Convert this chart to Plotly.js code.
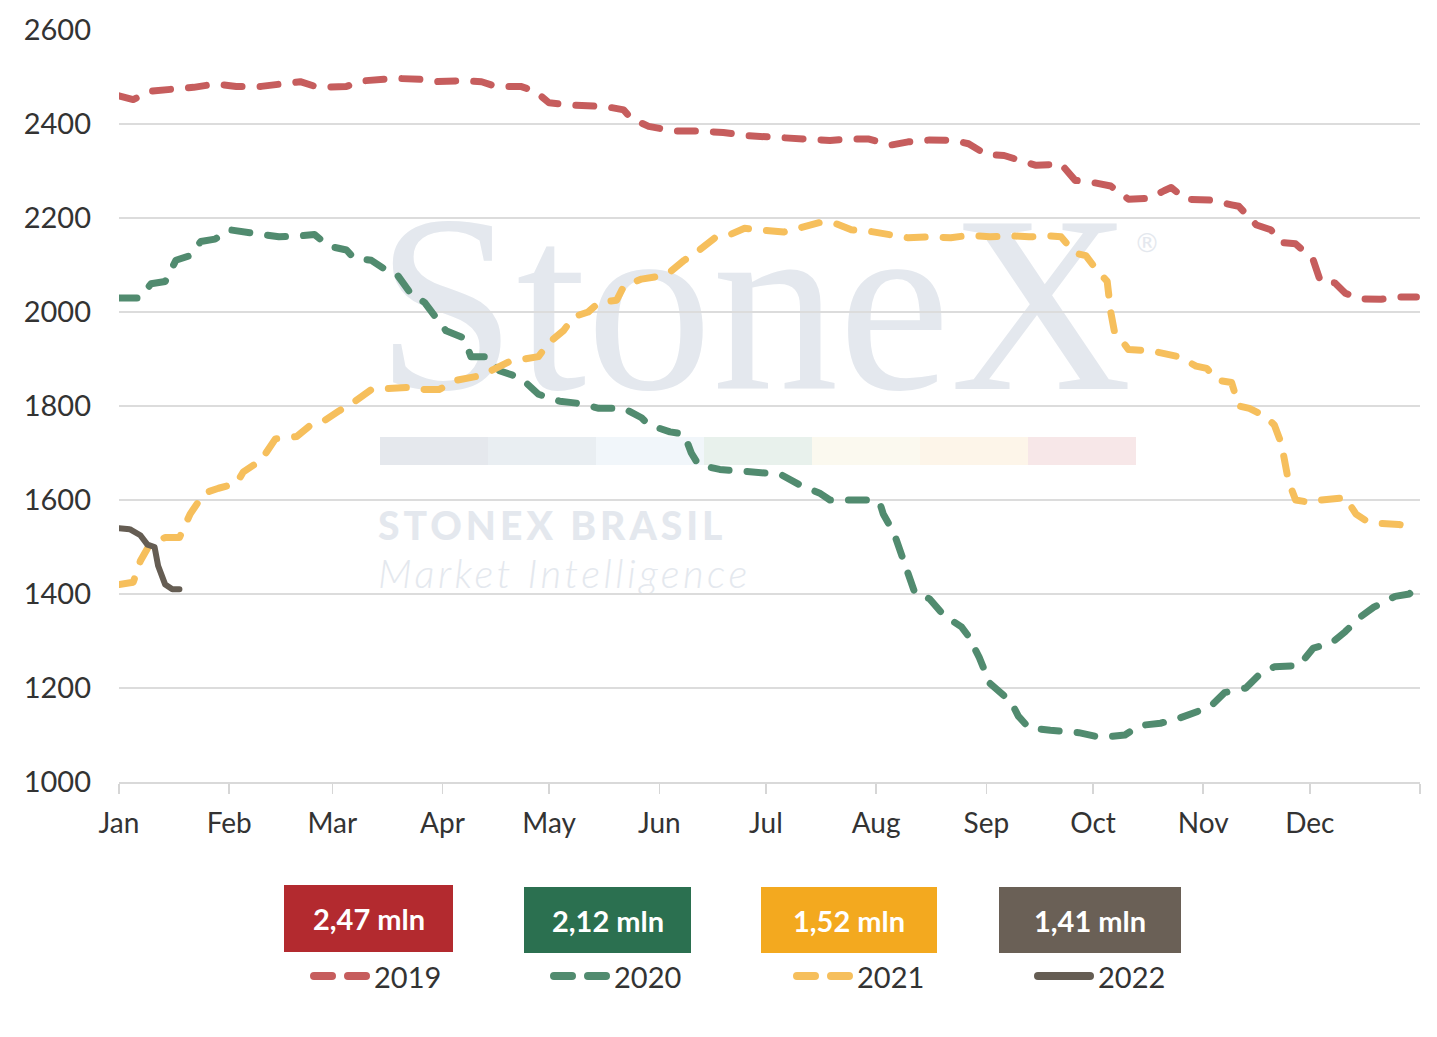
<!DOCTYPE html>
<html>
<head>
<meta charset="utf-8">
<script src="https://cdn.plot.ly/plotly-3.0.1.min.js"></script>
<style>
  html, body { margin: 0; padding: 0; background: #ffffff; }
  #wrap { position: relative; width: 1437px; height: 1037px; overflow: hidden; }
  #wm { position: absolute; left: 0; top: 0; width: 1437px; height: 1037px; z-index: 0; }
  #chart { position: absolute; left: 0; top: 0; width: 1437px; height: 1037px; z-index: 1; }
  .wm-text { position: absolute; white-space: nowrap; color: #e4e8ee; line-height: 1; }
  .wm-bar { position: absolute; top: 437px; height: 28px; width: 108px; }
  .js-line { stroke-linecap: round; stroke-linejoin: round; }
  .shapelayer path { stroke-linecap: round; }
</style>
</head>
<body>
<div id="wrap">
  <div id="wm">
    <div class="wm-text" style="left:376px; top:178px; font-family:'Liberation Serif','DejaVu Serif',serif; font-size:252px;">StoneX</div>
    <div class="wm-text" style="left:1134px; top:230px; font-family:'DejaVu Sans',sans-serif; font-size:26px;">®</div>
    <div class="wm-bar" style="left:380px; background:#e5e8ed;"></div>
    <div class="wm-bar" style="left:488px; background:#e9eef2;"></div>
    <div class="wm-bar" style="left:596px; background:#f1f6fa;"></div>
    <div class="wm-bar" style="left:704px; background:#e8f1ec;"></div>
    <div class="wm-bar" style="left:812px; background:#fbf9ef;"></div>
    <div class="wm-bar" style="left:920px; background:#fdf5e9;"></div>
    <div class="wm-bar" style="left:1028px; background:#f7e7e8;"></div>
    <div class="wm-text" style="left:378px; top:506px; font-family:Lato,sans-serif; font-weight:900; font-size:39px; letter-spacing:4px;">STONEX BRASIL</div>
    <div class="wm-text" style="left:378px; top:553px; font-family:Lato,sans-serif; font-style:italic; font-weight:300; font-size:40px; letter-spacing:3.5px;">Market Intelligence</div>
  </div>
  <div id="chart"></div>
</div>
<script>
// ---------------- DATA ----------------
// x values are day offsets from 1 January (seasonal axis)
const monthLabels = ['Jan','Feb','Mar','Apr','May','Jun','Jul','Aug','Sep','Oct','Nov','Dec',''];
const yTicks = [1000,1200,1400,1600,1800,2000,2200,2400,2600];

const days2019 = [0,4,9,14,21,27,33,40,45,51,56,64,69,78,85,89,96,102,106,113,117,121,128,137,142,144,149,156,163,170,177,183,189,194,200,206,211,217,222,228,235,239,244,249,253,258,265,269,273,279,284,290,294,296,300,307,313,315,320,324,327,331,334,336,338,342,345,349,355,360,365];
const vals2019 = [2460,2452,2470,2473,2478,2485,2480,2480,2485,2490,2478,2480,2492,2497,2495,2490,2492,2490,2480,2480,2470,2445,2440,2437,2430,2412,2395,2385,2385,2382,2375,2372,2370,2368,2365,2368,2368,2355,2362,2366,2365,2358,2335,2333,2325,2312,2315,2280,2277,2268,2240,2242,2258,2265,2240,2238,2228,2225,2185,2175,2148,2145,2125,2110,2065,2062,2040,2028,2027,2032,2032];

const days2020 = [0,6,9,13,16,20,23,27,31,35,40,45,51,55,59,64,66,71,75,78,82,86,89,92,97,99,104,107,113,118,124,130,135,142,147,149,155,159,161,163,169,180,186,192,197,200,211,214,215,218,221,224,228,232,237,239,242,245,248,251,253,256,262,270,276,283,287,293,298,303,307,311,317,321,325,332,336,341,345,349,353,359,363,366];
const vals2020 = [2030,2030,2060,2065,2110,2120,2150,2155,2175,2170,2165,2160,2162,2165,2140,2132,2115,2110,2090,2082,2040,2020,1990,1960,1945,1905,1905,1875,1860,1825,1810,1805,1795,1795,1775,1760,1745,1740,1700,1675,1665,1660,1655,1630,1615,1600,1600,1595,1570,1530,1470,1400,1390,1355,1330,1310,1265,1210,1190,1170,1140,1115,1110,1105,1095,1100,1120,1125,1135,1150,1160,1190,1200,1230,1245,1248,1285,1295,1320,1350,1372,1395,1400,1425];

const days2021 = [0,4,6,9,13,17,20,24,28,33,35,40,44,50,54,58,62,66,71,76,82,86,90,95,99,102,106,110,114,118,121,125,128,132,135,140,142,147,151,155,159,163,168,172,176,180,187,192,197,201,206,211,217,222,228,234,239,245,251,256,262,265,269,272,275,278,279,280,282,284,290,296,298,303,306,309,313,315,318,322,325,327,328,329,331,335,338,342,345,348,351,355,360,365];
const vals2021 = [1420,1425,1470,1510,1520,1520,1570,1615,1625,1635,1660,1685,1730,1735,1760,1770,1790,1808,1835,1838,1840,1835,1835,1855,1860,1865,1880,1895,1900,1905,1935,1960,1990,2000,2020,2025,2055,2070,2075,2085,2110,2130,2160,2165,2178,2175,2170,2180,2190,2190,2175,2172,2165,2158,2160,2158,2163,2160,2162,2160,2162,2160,2125,2120,2090,2065,2000,1960,1940,1920,1918,1910,1905,1885,1880,1855,1850,1800,1795,1780,1760,1720,1680,1640,1600,1595,1600,1605,1605,1570,1555,1550,1548,1540];

const days2022 = [0,3,6,8,10,11,13,15,17];
const vals2022 = [1540,1538,1525,1505,1500,1460,1420,1410,1410];

const seriesNames = ['2019','2020','2021','2022'];
const boxLabels = ['2,47 mln','2,12 mln','1,52 mln','1,41 mln'];

// ---------------- HELPERS ----------------
const BASE = Date.UTC(2020, 0, 1);
function toDate(d) { return new Date(BASE + d * 86400000).toISOString().slice(0, 10); }
const monthVals = monthLabels.map((_, i) => new Date(Date.UTC(2020, i, 1)).toISOString().slice(0, 10));

const L = 119, R = 1420, T = 30, B = 782;
const px = x => (x - L) / (R - L);
const py = y => (B - y) / (B - T);

const lineColors = ['#c65d5d', '#518b6f', '#f6bf5c', '#655d53'];
const boxColors = ['#b32a2f', '#2b7050', '#f3a91f', '#6a6056'];
const DASH = '18px,18px';

function trace(days, vals, i) {
  return {
    type: 'scatter', mode: 'lines', name: seriesNames[i],
    x: days.map(toDate), y: vals,
    line: { color: lineColors[i], width: i === 3 ? 6 : 7, dash: i === 3 ? 'solid' : DASH },
    showlegend: false, hoverinfo: 'x+y'
  };
}

const data = [
  trace(days2019, vals2019, 0),
  trace(days2020, vals2020, 1),
  trace(days2021, vals2021, 2),
  trace(days2022, vals2022, 3)
];

// Legend (boxes with values + line keys)
const boxes = [[284, 453, 885, 952], [524, 691, 887, 953], [761, 937, 887, 953], [999, 1181, 887, 953]];
const keyX = [310, 550, 793, 1034];
const shapes = [];
const annotations = [];
boxes.forEach((b, i) => {
  shapes.push({ type: 'rect', xref: 'paper', yref: 'paper', x0: px(b[0]), x1: px(b[1]), y0: py(b[3]), y1: py(b[2]),
    fillcolor: boxColors[i], line: { width: 0 }, layer: 'above' });
  annotations.push({ xref: 'paper', yref: 'paper', x: px((b[0] + b[1]) / 2), y: py((b[2] + b[3]) / 2),
    text: '<b>' + boxLabels[i] + '</b>', showarrow: false, xanchor: 'center', yanchor: 'middle',
    font: { family: 'Lato, sans-serif', size: 29, color: '#ffffff' } });
  const k = keyX[i];
  shapes.push({ type: 'line', xref: 'paper', yref: 'paper', x0: px(k + 4), x1: px(k + 56), y0: py(976), y1: py(976),
    line: { color: lineColors[i], width: 8, dash: i === 3 ? 'solid' : '18px,16px' }, layer: 'above' });
  annotations.push({ xref: 'paper', yref: 'paper', x: px(k + 62), y: py(977), text: seriesNames[i],
    showarrow: false, xanchor: 'left', yanchor: 'middle',
    font: { family: 'Lato, sans-serif', size: 29, color: '#333333' } });
});

const layout = {
  width: 1437, height: 1037,
  margin: { l: L, r: 1437 - R, t: T, b: 1037 - B, pad: 0 },
  paper_bgcolor: 'rgba(0,0,0,0)', plot_bgcolor: 'rgba(0,0,0,0)',
  font: { family: 'Lato, sans-serif', color: '#333333', size: 27 },
  showlegend: false,
  xaxis: {
    type: 'date', range: [monthVals[0], monthVals[12]],
    tickmode: 'array', tickvals: monthVals, ticktext: monthLabels,
    ticks: 'outside', ticklen: 10, tickwidth: 1.5, tickcolor: '#d6d6d6',
    showgrid: false, zeroline: false, showline: true, linecolor: '#d9d9d9', linewidth: 1.5,
    tickfont: { size: 28, color: '#333333' }, ticklabelstandoff: 6, fixedrange: true
  },
  yaxis: {
    range: [1000, 2600], tickmode: 'array', tickvals: yTicks,
    showgrid: true, gridcolor: '#dcdcdc', gridwidth: 1.5, zeroline: false, showline: false,
    ticks: '', tickfont: { size: 29, color: '#333333' }, ticklabelstandoff: 27, fixedrange: true
  },
  shapes: shapes,
  annotations: annotations
};

Plotly.newPlot('chart', data, layout, { displayModeBar: false, staticPlot: true });
</script>
</body>
</html>
